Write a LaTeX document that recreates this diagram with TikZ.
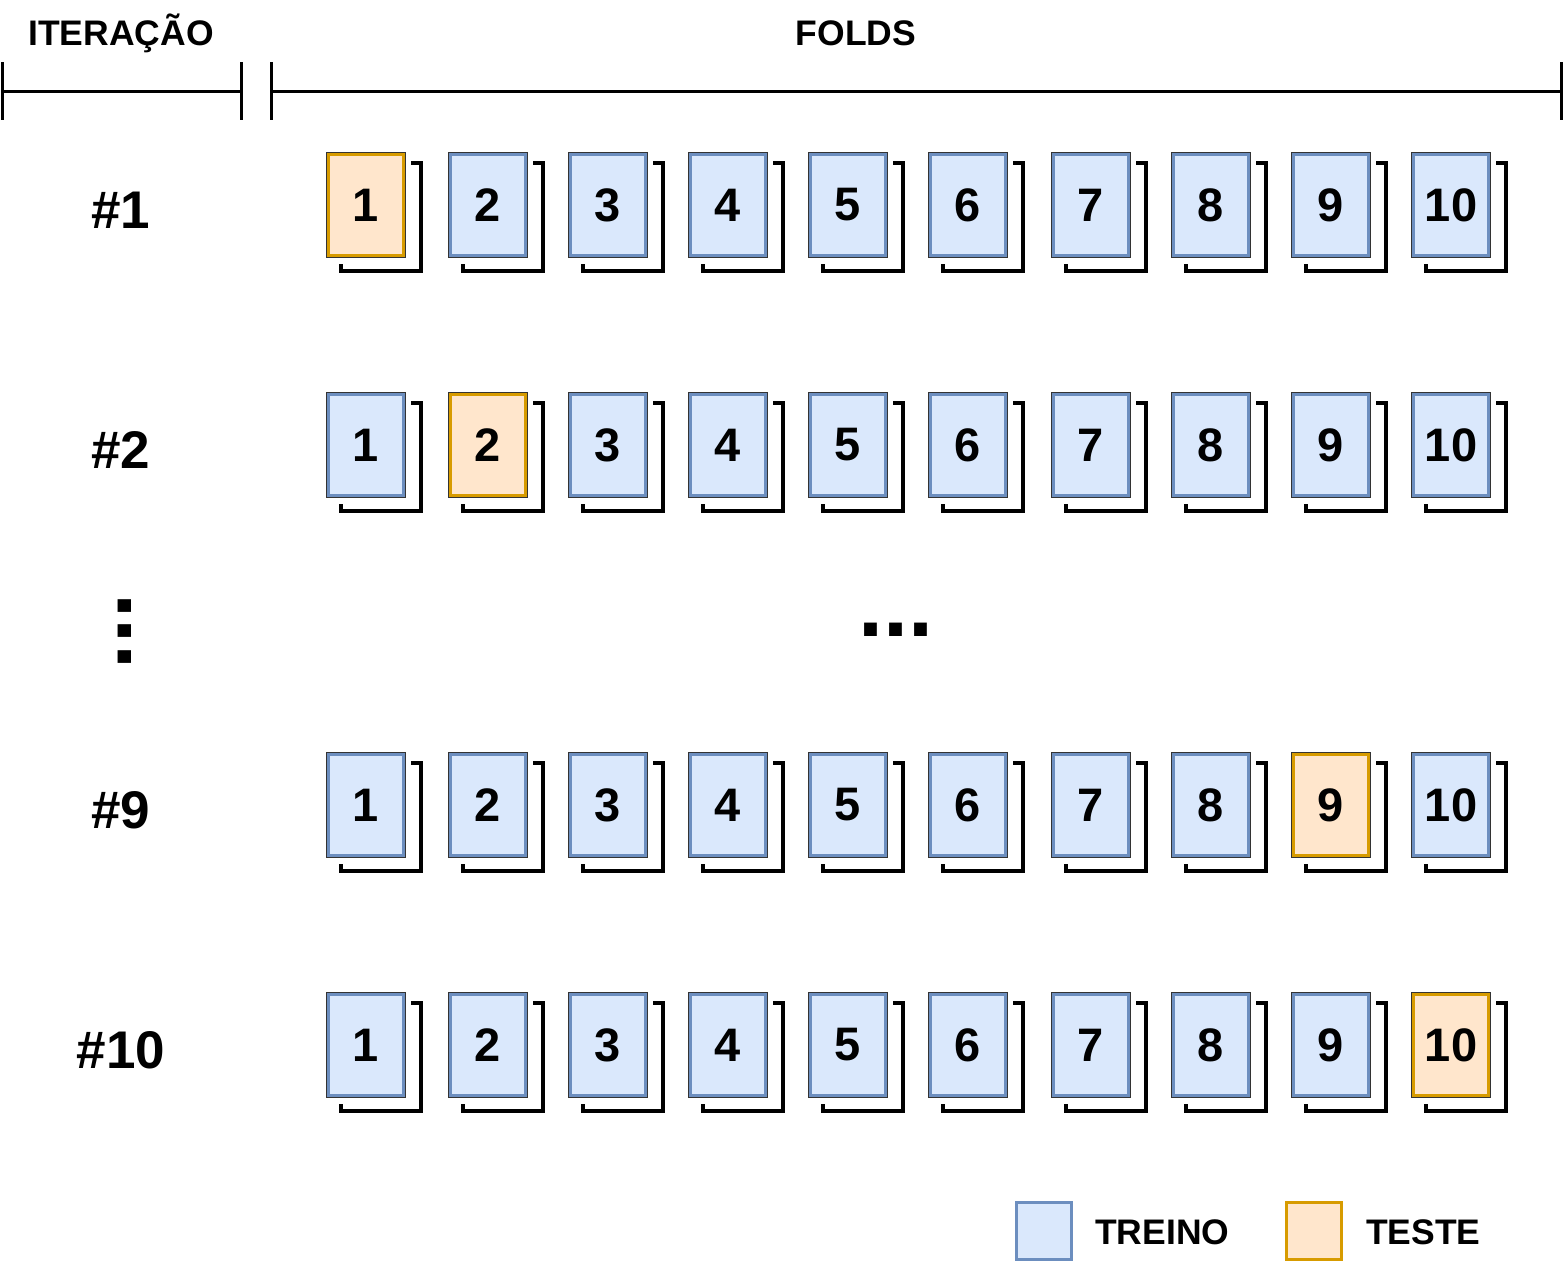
\documentclass[tikz,border=0pt]{standalone}
\usepackage{fontspec}
\setmainfont{Liberation Sans}
\definecolor{trfill}{HTML}{DAE8FC}
\definecolor{trline}{HTML}{6C8EBF}
\definecolor{tefill}{HTML}{FFE6CC}
\definecolor{teline}{HTML}{D79B00}
\definecolor{outl}{HTML}{333333}
\tikzset{
  fold/.style={rectangle, minimum width=75pt, minimum height=101pt, inner sep=0pt, outer sep=0pt,
    line width=3pt, font=\fontsize{47}{47}\bfseries\selectfont},
  train/.style={fold, fill=trfill, draw=trline},
  test/.style={fold, fill=tefill, draw=teline},
  outline/.style={draw=outl, line width=1pt},
  shadowline/.style={line width=4.8pt, draw=black},
  bracketline/.style={line width=3pt, draw=black},
  rowlabel/.style={anchor=base, inner sep=0pt, font=\fontsize{53}{53}\bfseries\selectfont},
  header/.style={anchor=base, inner sep=0pt, font=\fontsize{35.5}{35.5}\bfseries\selectfont},
  legbox/.style={rectangle, minimum width=55pt, minimum height=57pt, inner sep=0pt, line width=3pt},
  legtext/.style={anchor=base west, inner sep=0pt, font=\fontsize{35.5}{35.5}\bfseries\selectfont},
  dots/.style={anchor=base, inner sep=0pt, font=\fontsize{90}{90}\bfseries\selectfont}
}
\begin{document}
\begin{tikzpicture}[x=1pt,y=-1pt]
\useasboundingbox (0,0) rectangle (1563,1266);

% header brackets
\coordinate (itl) at (2,91);
\coordinate (itr) at (241,91);
\coordinate (fol) at (271,91);
\coordinate (forr) at (1561,91);
\draw[bracketline] (itl) -- (itr);
\draw[bracketline] ([yshift=29pt]itl) -- ([yshift=-29pt]itl);
\draw[bracketline] ([yshift=29pt]itr) -- ([yshift=-29pt]itr);
\draw[bracketline] (fol) -- (forr);
\draw[bracketline] ([yshift=29pt]fol) -- ([yshift=-29pt]fol);
\draw[bracketline] ([yshift=29pt]forr) -- ([yshift=-29pt]forr);
\node[header] (iter) at (121,45) {ITERAÇÃO};
\node[header] (folds) at (856,45) {FOLDS};

% rows
\foreach \r/\y/\t in {1/152/1, 2/392/2, 9/752/9, 10/992/10}{
  \node[rowlabel] (row\r) at (121,\y+76) {\#\r};
  \foreach \c/\x in {1/326, 2/448, 3/568, 4/688, 5/808, 6/928, 7/1051, 8/1171, 9/1291, 10/1411}{
    \ifnum\c=\t\relax\tikzset{cur/.style={test}}\else\tikzset{cur/.style={train}}\fi
    \draw[shadowline] (\x+85,\y+11) -- (\x+95,\y+11) -- (\x+95,\y+119) -- (\x+15,\y+119) -- (\x+15,\y+112);
    \node[cur] (f-\r-\c) at (\x+40,\y+53) {\c};
    \draw[outline] ([shift={(-2,-2)}]f-\r-\c.north west) rectangle ([shift={(2,2)}]f-\r-\c.south east);
  }
}

% ellipsis
\node[dots] (hdots) at (895.5,636) {...};
\node[dots, rotate=90] (vdots) at (131,631.5) {...};

% legend
\node[legbox, fill=trfill, draw=trline] (legtr) at (1043.5,1231) {};
\node[legtext] (legtrt) at (1095,1244) {TREINO};
\node[legbox, fill=tefill, draw=teline] (legte) at (1314,1231) {};
\node[legtext] (legtet) at (1366,1244) {TESTE};
\end{tikzpicture}
\end{document}
